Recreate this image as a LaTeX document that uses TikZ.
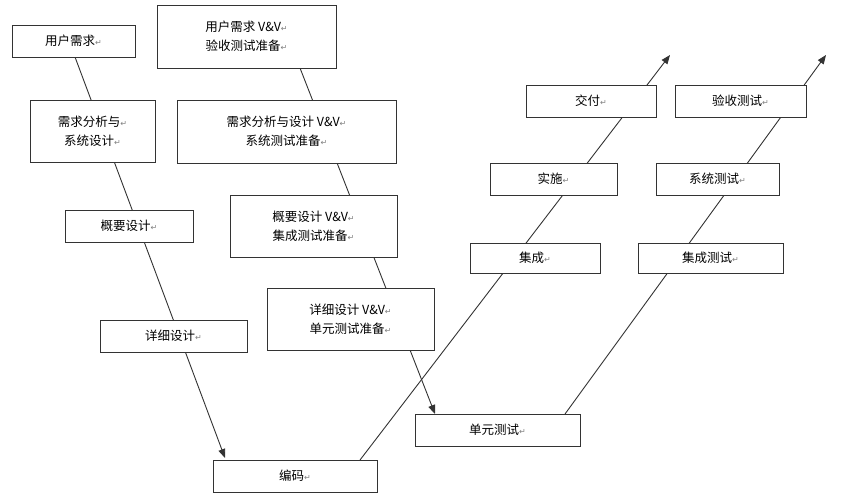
\documentclass[tikz,border=0pt]{standalone}
\usepackage{fontspec}
\newfontfamily\cjk{Noto Sans CJK SC}
\newfontfamily\dv{DejaVu Sans}
\usetikzlibrary{arrows.meta}
\newcommand{\ret}{{\dv\fontsize{8}{8}\selectfont\color{gray}↵}}
\tikzset{
 bx/.style={draw=black!80, line width=0.8pt, fill=white, font=\cjk\fontsize{12.5}{19}\selectfont, align=center, inner sep=0pt},
 ln/.style={draw=black!80, line width=0.9pt},
 ar/.style={ln, -{Triangle[length=9pt,width=7pt]}}
}
\newcommand{\bxat}[6]{\node[bx, minimum width=#3-#1, minimum height=#4-#2] (#5) at ({(#1+#3)/2},{(#2+#4)/2}) {#6};}
\begin{document}
\begin{tikzpicture}[x=1pt,y=-1pt]
\useasboundingbox (0,0) rectangle (845,501);
\coordinate (a1) at (75,57); \coordinate (a2) at (225,458);
\coordinate (b1) at (300,68); \coordinate (b2) at (435,414);
\coordinate (c1) at (360,460); \coordinate (c2) at (670,55);
\coordinate (d1) at (565,414); \coordinate (d2) at (826,55);
\draw[ar] (a1) -- (a2);
\draw[ar] (b1) -- (b2);
\draw[ar] (c1) -- (c2);
\draw[ar] (d1) -- (d2);
\bxat{12}{25}{135}{57}{ur}{用户需求\ret}
\bxat{157}{5}{336}{68}{urv}{用户需求 V\&V\ret\\验收测试准备\ret}
\bxat{30}{100}{155}{162}{ra}{需求分析与\ret\\系统设计\ret}
\bxat{177}{100}{396}{163}{rav}{需求分析与设计 V\&V\ret\\系统测试准备\ret}
\bxat{65}{210}{193}{242}{hl}{概要设计\ret}
\bxat{230}{195}{397}{257}{hlv}{概要设计 V\&V\ret\\集成测试准备\ret}
\bxat{100}{320}{247}{352}{dd}{详细设计\ret}
\bxat{267}{288}{434}{350}{ddv}{详细设计 V\&V\ret\\单元测试准备\ret}
\bxat{213}{460}{377}{492}{code}{编码\ret}
\bxat{415}{414}{580}{446}{ut}{单元测试\ret}
\bxat{470}{243}{600}{273}{integ}{集成\ret}
\bxat{490}{163}{617}{195}{impl}{实施\ret}
\bxat{526}{85}{656}{117}{deliv}{交付\ret}
\bxat{638}{243}{783}{273}{it}{集成测试\ret}
\bxat{656}{163}{779}{195}{st}{系统测试\ret}
\bxat{675}{85}{806}{117}{at}{验收测试\ret}
\end{tikzpicture}
\end{document}
